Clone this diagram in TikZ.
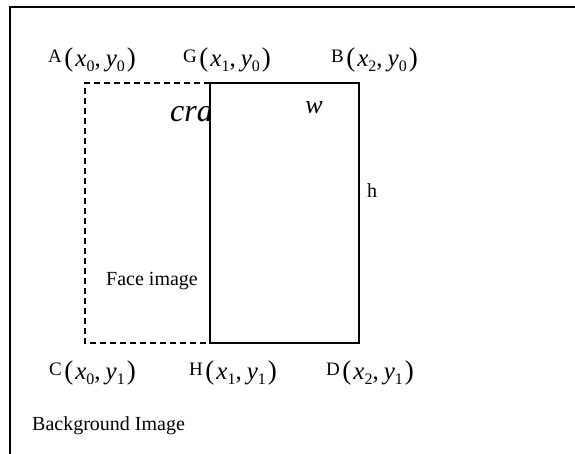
\documentclass[tikz,border=0pt]{standalone}
\usepackage{fontspec}
\setmainfont{Liberation Serif}
\newcommand{\ptlabel}[3]{{\fontsize{19}{20}\selectfont #1}\kern2.5pt\raisebox{-4.5pt}{{\fontsize{27}{28}\selectfont(}\kern2pt{\fontsize{25}{26}\selectfont\textit{x}}\raisebox{-5pt}{\fontsize{16}{16}\selectfont #2}{\fontsize{25}{26}\selectfont,\kern5pt\textit{y}}\raisebox{-5pt}{\fontsize{16}{16}\selectfont #3}\kern2pt{\fontsize{27}{28}\selectfont)}}}
\tikzset{
  frameline/.style={line width=2pt},
  dashbox/.style={line width=2pt, dash pattern=on 6.5pt off 3.5pt},
  solidbox/.style={line width=2pt, fill=white},
  ptlbl/.style={inner sep=0pt, anchor=base west},
  txt/.style={inner sep=0pt, anchor=base west, font=\fontsize{20}{22}\selectfont},
}
\begin{document}
\begin{tikzpicture}[x=1pt,y=-1pt]
\useasboundingbox (0,0) rectangle (575,453);
% frame (only top and left edges visible)
\draw[frameline] (9.5,460) -- (9.5,7) -- (580,7);
% dashed crop region
\draw[dashbox] (210,82.5) -- (85,82.5) -- (85,343) -- (210,343);
% clipped italic text
\node[inner sep=0pt, anchor=base west, font=\fontsize{32}{34}\selectfont\itshape] (cra) at (170,121) {cra};
% solid face box
\draw[solidbox] (210,82.5) rectangle (358.5,343);
% labels
\node[ptlbl] (A) at (48,62) {\ptlabel{A}{0}{0}};
\node[ptlbl] (G) at (183,62) {\ptlabel{G}{1}{0}};
\node[ptlbl] (B) at (331,62) {\ptlabel{B}{2}{0}};
\node[ptlbl] (C) at (49,375) {\ptlabel{C}{0}{1}};
\node[ptlbl] (H) at (189,375) {\ptlabel{H}{1}{1}};
\node[ptlbl] (D) at (326,375) {\ptlabel{D}{2}{1}};
\node[inner sep=0pt, anchor=base, font=\fontsize{26}{28}\selectfont\itshape] (w) at (314,113) {w};
\node[txt] (h) at (367,197) {h};
\node[txt] (face) at (106,285) {Face image};
\node[txt] (bg) at (32,430) {Background Image};
\end{tikzpicture}
\end{document}
